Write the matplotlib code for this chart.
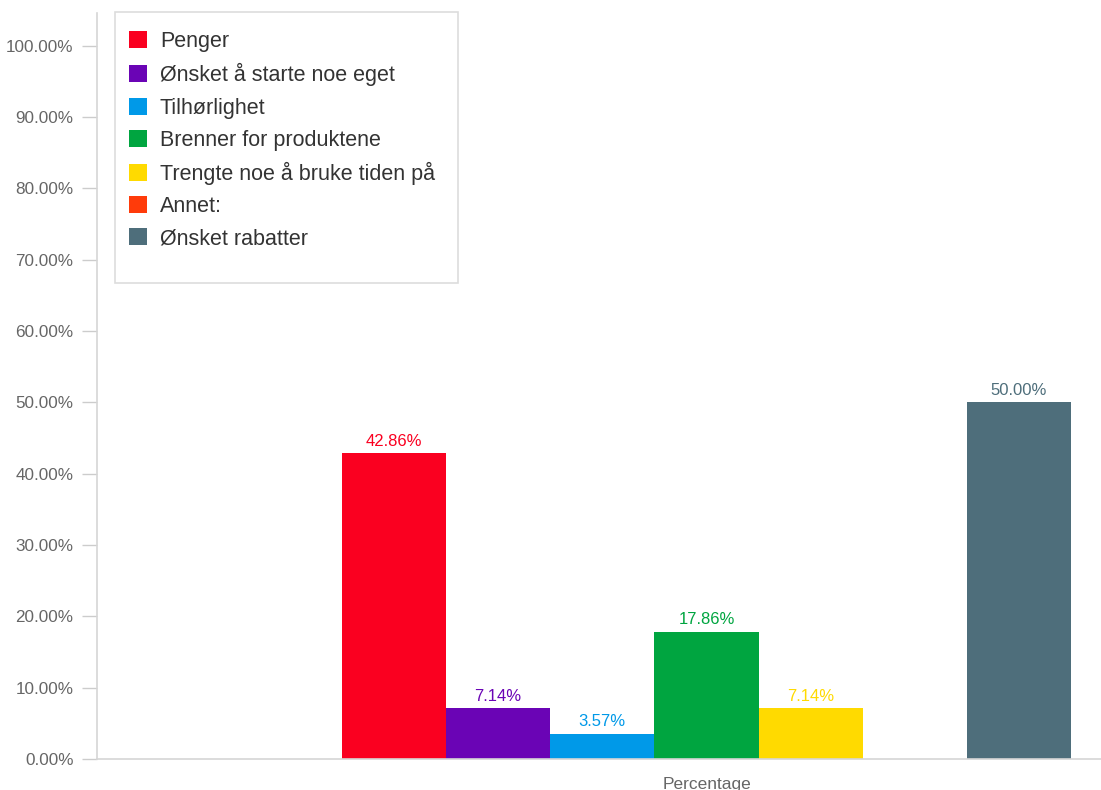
import numpy as np
import matplotlib
matplotlib.use("Agg")
import matplotlib.pyplot as plt
import matplotlib.patches as mpatches
from matplotlib.ticker import FuncFormatter

# Data
labels = ["Penger", "Ønsket å starte noe eget", "Tilhørlighet",
          "Brenner for produktene", "Trengte noe å bruke tiden på",
          "Annet:", "Ønsket rabatter"]
values = [42.86, 7.14, 3.57, 17.86, 7.14, 0.0, 50.00]
colors = ["#FA0020", "#6A04B5", "#0099E8", "#00A540", "#FFDA00",
          "#FF3B0A", "#4E6E7B"]
group_label = "Percentage"
yticks = [0, 10, 20, 30, 40, 50, 60, 70, 80, 90, 100]

plt.rcParams['font.family'] = ['Liberation Sans', 'DejaVu Sans']

W, H = 1101, 790
fig = plt.figure(figsize=(W/100, H/100), dpi=100)

# axes in pixel terms (right side runs past the picture, as in the reference)
x_left, x_right = 97, 1316
y_bot, y_top = 759, 13
ax = fig.add_axes([x_left/W, (H-y_bot)/H, (x_right-x_left)/W, (y_bot-y_top)/H])

n = len(values)
pos = np.arange(n)
for i in range(n):
    ax.bar(pos[i], values[i], width=1.0, color=colors[i], label=labels[i],
           edgecolor="none")
    if values[i] > 0:
        ax.text(pos[i], values[i] + 0.6, f"{values[i]:.2f}%", ha="center",
                va="bottom", color=colors[i], fontsize=12)

ax.set_xlim(-2.85, 8.85)
ax.set_ylim(0, 104.6)
ax.set_yticks(yticks)
ax.yaxis.set_major_formatter(FuncFormatter(lambda v, p: f"{v:.2f}%"))
ax.set_xticks([(n - 1) / 2])
ax.set_xticklabels([group_label])
ax.tick_params(axis="y", colors="#cccccc", labelcolor="#666666",
               labelsize=12.3, length=11, width=1, pad=6)
ax.tick_params(axis="x", length=0, labelcolor="#666666", labelsize=12.5, pad=13)

for s in ["top", "right"]:
    ax.spines[s].set_visible(False)
for s in ["left", "bottom"]:
    ax.spines[s].set_color("#d6d6d6")
    ax.spines[s].set_linewidth(1.2)

# legend frame
box = mpatches.Rectangle((115/W, (H-283)/H), (458-115)/W, (283-12)/H,
                         transform=fig.transFigure, facecolor="white",
                         edgecolor="#dddddd", lw=1.2, zorder=5)
fig.patches.append(box)

handles, labs = ax.get_legend_handles_labels()
leg = fig.legend(handles, labs, loc="upper left",
                 bbox_to_anchor=(129/W, (H-31)/H), frameon=False,
                 fontsize=15.5, handlelength=0.84, handleheight=0.84,
                 handletextpad=0.6, labelspacing=0.52, borderpad=0,
                 borderaxespad=0)
leg.set_zorder(6)
for t in leg.get_texts():
    t.set_color("#333333")

fig.savefig("out.png", dpi=100)
